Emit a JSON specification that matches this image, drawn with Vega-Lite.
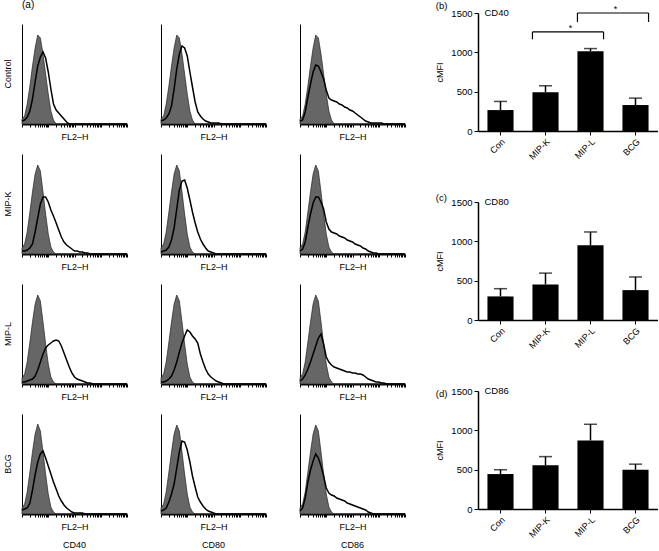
{
"$schema": "https://vega.github.io/schema/vega-lite/v6.json",
"padding": {"left": 3, "top": 0, "right": 0, "bottom": 0},
"config": {"font": "Liberation Sans", "view": {"stroke": null},
  "axis": {"labelColor": "black", "titleColor": "black", "domainColor": "black", "tickColor": "black", "grid": false},
  "header": {"labelColor": "black"}, "title": {"color": "black"}},
"datasets": {
"hist": [
{"g":"Control","m":"CD40","x":1,"iso":5,"smp":3},{"g":"Control","m":"CD40","x":1.26,"iso":8,"smp":4},{"g":"Control","m":"CD40","x":1.58,"iso":20,"smp":7},{"g":"Control","m":"CD40","x":2,"iso":38,"smp":13},{"g":"Control","m":"CD40","x":2.51,"iso":58,"smp":25},{"g":"Control","m":"CD40","x":3.16,"iso":76,"smp":42},{"g":"Control","m":"CD40","x":3.98,"iso":89,"smp":58},{"g":"Control","m":"CD40","x":5.01,"iso":86,"smp":67},{"g":"Control","m":"CD40","x":6.31,"iso":70,"smp":72},{"g":"Control","m":"CD40","x":7.94,"iso":50,"smp":66},{"g":"Control","m":"CD40","x":10,"iso":30,"smp":52},{"g":"Control","m":"CD40","x":12.6,"iso":13,"smp":35},{"g":"Control","m":"CD40","x":15.8,"iso":4,"smp":20},{"g":"Control","m":"CD40","x":20,"iso":0,"smp":14},{"g":"Control","m":"CD40","x":25.1,"iso":0,"smp":11},{"g":"Control","m":"CD40","x":31.6,"iso":0,"smp":8},{"g":"Control","m":"CD40","x":39.8,"iso":0,"smp":5},{"g":"Control","m":"CD40","x":50.1,"iso":0,"smp":2},{"g":"Control","m":"CD40","x":63.1,"iso":0,"smp":0},{"g":"Control","m":"CD40","x":10000,"iso":0,"smp":0},
{"g":"Control","m":"CD80","x":1,"iso":5,"smp":3},{"g":"Control","m":"CD80","x":1.26,"iso":8,"smp":4},{"g":"Control","m":"CD80","x":1.58,"iso":20,"smp":6},{"g":"Control","m":"CD80","x":2,"iso":38,"smp":10},{"g":"Control","m":"CD80","x":2.51,"iso":58,"smp":18},{"g":"Control","m":"CD80","x":3.16,"iso":76,"smp":35},{"g":"Control","m":"CD80","x":3.98,"iso":89,"smp":55},{"g":"Control","m":"CD80","x":5.01,"iso":86,"smp":70},{"g":"Control","m":"CD80","x":6.31,"iso":70,"smp":78},{"g":"Control","m":"CD80","x":7.94,"iso":50,"smp":76},{"g":"Control","m":"CD80","x":10,"iso":30,"smp":68},{"g":"Control","m":"CD80","x":12.6,"iso":13,"smp":52},{"g":"Control","m":"CD80","x":15.8,"iso":4,"smp":37},{"g":"Control","m":"CD80","x":20,"iso":0,"smp":22},{"g":"Control","m":"CD80","x":25.1,"iso":0,"smp":12},{"g":"Control","m":"CD80","x":31.6,"iso":0,"smp":8},{"g":"Control","m":"CD80","x":39.8,"iso":0,"smp":5},{"g":"Control","m":"CD80","x":50.1,"iso":0,"smp":3},{"g":"Control","m":"CD80","x":63.1,"iso":0,"smp":2},{"g":"Control","m":"CD80","x":79.4,"iso":0,"smp":1},{"g":"Control","m":"CD80","x":100,"iso":0,"smp":1},{"g":"Control","m":"CD80","x":126,"iso":0,"smp":1},{"g":"Control","m":"CD80","x":158,"iso":0,"smp":1},{"g":"Control","m":"CD80","x":200,"iso":0,"smp":0},{"g":"Control","m":"CD80","x":10000,"iso":0,"smp":0},
{"g":"Control","m":"CD86","x":1,"iso":5,"smp":3},{"g":"Control","m":"CD86","x":1.26,"iso":8,"smp":4},{"g":"Control","m":"CD86","x":1.58,"iso":20,"smp":12},{"g":"Control","m":"CD86","x":2,"iso":38,"smp":27},{"g":"Control","m":"CD86","x":2.51,"iso":58,"smp":40},{"g":"Control","m":"CD86","x":3.16,"iso":76,"smp":52},{"g":"Control","m":"CD86","x":3.98,"iso":89,"smp":59},{"g":"Control","m":"CD86","x":5.01,"iso":86,"smp":58},{"g":"Control","m":"CD86","x":6.31,"iso":70,"smp":52},{"g":"Control","m":"CD86","x":7.94,"iso":50,"smp":45},{"g":"Control","m":"CD86","x":10,"iso":30,"smp":34},{"g":"Control","m":"CD86","x":12.6,"iso":13,"smp":26},{"g":"Control","m":"CD86","x":15.8,"iso":4,"smp":24},{"g":"Control","m":"CD86","x":20,"iso":0,"smp":23},{"g":"Control","m":"CD86","x":25.1,"iso":0,"smp":22},{"g":"Control","m":"CD86","x":31.6,"iso":0,"smp":20},{"g":"Control","m":"CD86","x":39.8,"iso":0,"smp":19},{"g":"Control","m":"CD86","x":50.1,"iso":0,"smp":17},{"g":"Control","m":"CD86","x":63.1,"iso":0,"smp":16},{"g":"Control","m":"CD86","x":79.4,"iso":0,"smp":14},{"g":"Control","m":"CD86","x":100,"iso":0,"smp":13},{"g":"Control","m":"CD86","x":126,"iso":0,"smp":11},{"g":"Control","m":"CD86","x":158,"iso":0,"smp":9},{"g":"Control","m":"CD86","x":200,"iso":0,"smp":7},{"g":"Control","m":"CD86","x":251,"iso":0,"smp":5},{"g":"Control","m":"CD86","x":316,"iso":0,"smp":3},{"g":"Control","m":"CD86","x":398,"iso":0,"smp":2},{"g":"Control","m":"CD86","x":501,"iso":0,"smp":1},{"g":"Control","m":"CD86","x":631,"iso":0,"smp":1},{"g":"Control","m":"CD86","x":794,"iso":0,"smp":1},{"g":"Control","m":"CD86","x":1000,"iso":0,"smp":1},{"g":"Control","m":"CD86","x":1260,"iso":0,"smp":1},{"g":"Control","m":"CD86","x":1580,"iso":0,"smp":0},{"g":"Control","m":"CD86","x":10000,"iso":0,"smp":0},
{"g":"MIP-K","m":"CD40","x":1,"iso":6,"smp":3},{"g":"MIP-K","m":"CD40","x":1.26,"iso":10,"smp":3},{"g":"MIP-K","m":"CD40","x":1.58,"iso":22,"smp":4},{"g":"MIP-K","m":"CD40","x":2,"iso":42,"smp":6},{"g":"MIP-K","m":"CD40","x":2.51,"iso":62,"smp":10},{"g":"MIP-K","m":"CD40","x":3.16,"iso":80,"smp":22},{"g":"MIP-K","m":"CD40","x":3.98,"iso":89,"smp":36},{"g":"MIP-K","m":"CD40","x":5.01,"iso":83,"smp":50},{"g":"MIP-K","m":"CD40","x":6.31,"iso":62,"smp":57},{"g":"MIP-K","m":"CD40","x":7.94,"iso":40,"smp":57},{"g":"MIP-K","m":"CD40","x":10,"iso":20,"smp":52},{"g":"MIP-K","m":"CD40","x":12.6,"iso":7,"smp":44},{"g":"MIP-K","m":"CD40","x":15.8,"iso":2,"smp":38},{"g":"MIP-K","m":"CD40","x":20,"iso":0,"smp":31},{"g":"MIP-K","m":"CD40","x":25.1,"iso":0,"smp":24},{"g":"MIP-K","m":"CD40","x":31.6,"iso":0,"smp":17},{"g":"MIP-K","m":"CD40","x":39.8,"iso":0,"smp":12},{"g":"MIP-K","m":"CD40","x":50.1,"iso":0,"smp":9},{"g":"MIP-K","m":"CD40","x":63.1,"iso":0,"smp":7},{"g":"MIP-K","m":"CD40","x":79.4,"iso":0,"smp":5},{"g":"MIP-K","m":"CD40","x":100,"iso":0,"smp":3},{"g":"MIP-K","m":"CD40","x":126,"iso":0,"smp":3},{"g":"MIP-K","m":"CD40","x":158,"iso":0,"smp":2},{"g":"MIP-K","m":"CD40","x":200,"iso":0,"smp":2},{"g":"MIP-K","m":"CD40","x":251,"iso":0,"smp":1},{"g":"MIP-K","m":"CD40","x":316,"iso":0,"smp":1},{"g":"MIP-K","m":"CD40","x":398,"iso":0,"smp":0},{"g":"MIP-K","m":"CD40","x":10000,"iso":0,"smp":0},
{"g":"MIP-K","m":"CD80","x":1,"iso":6,"smp":2},{"g":"MIP-K","m":"CD80","x":1.26,"iso":10,"smp":3},{"g":"MIP-K","m":"CD80","x":1.58,"iso":22,"smp":4},{"g":"MIP-K","m":"CD80","x":2,"iso":42,"smp":7},{"g":"MIP-K","m":"CD80","x":2.51,"iso":62,"smp":14},{"g":"MIP-K","m":"CD80","x":3.16,"iso":80,"smp":26},{"g":"MIP-K","m":"CD80","x":3.98,"iso":89,"smp":45},{"g":"MIP-K","m":"CD80","x":5.01,"iso":83,"smp":64},{"g":"MIP-K","m":"CD80","x":6.31,"iso":62,"smp":73},{"g":"MIP-K","m":"CD80","x":7.94,"iso":40,"smp":74},{"g":"MIP-K","m":"CD80","x":10,"iso":20,"smp":66},{"g":"MIP-K","m":"CD80","x":12.6,"iso":7,"smp":54},{"g":"MIP-K","m":"CD80","x":15.8,"iso":2,"smp":42},{"g":"MIP-K","m":"CD80","x":20,"iso":0,"smp":31},{"g":"MIP-K","m":"CD80","x":25.1,"iso":0,"smp":22},{"g":"MIP-K","m":"CD80","x":31.6,"iso":0,"smp":15},{"g":"MIP-K","m":"CD80","x":39.8,"iso":0,"smp":10},{"g":"MIP-K","m":"CD80","x":50.1,"iso":0,"smp":6},{"g":"MIP-K","m":"CD80","x":63.1,"iso":0,"smp":3},{"g":"MIP-K","m":"CD80","x":79.4,"iso":0,"smp":2},{"g":"MIP-K","m":"CD80","x":100,"iso":0,"smp":1},{"g":"MIP-K","m":"CD80","x":126,"iso":0,"smp":0},{"g":"MIP-K","m":"CD80","x":10000,"iso":0,"smp":0},
{"g":"MIP-K","m":"CD86","x":1,"iso":6,"smp":3},{"g":"MIP-K","m":"CD86","x":1.26,"iso":10,"smp":5},{"g":"MIP-K","m":"CD86","x":1.58,"iso":22,"smp":12},{"g":"MIP-K","m":"CD86","x":2,"iso":42,"smp":27},{"g":"MIP-K","m":"CD86","x":2.51,"iso":62,"smp":40},{"g":"MIP-K","m":"CD86","x":3.16,"iso":80,"smp":51},{"g":"MIP-K","m":"CD86","x":3.98,"iso":89,"smp":57},{"g":"MIP-K","m":"CD86","x":5.01,"iso":83,"smp":57},{"g":"MIP-K","m":"CD86","x":6.31,"iso":62,"smp":52},{"g":"MIP-K","m":"CD86","x":7.94,"iso":40,"smp":45},{"g":"MIP-K","m":"CD86","x":10,"iso":20,"smp":32},{"g":"MIP-K","m":"CD86","x":12.6,"iso":7,"smp":25},{"g":"MIP-K","m":"CD86","x":15.8,"iso":2,"smp":22},{"g":"MIP-K","m":"CD86","x":20,"iso":0,"smp":21},{"g":"MIP-K","m":"CD86","x":25.1,"iso":0,"smp":20},{"g":"MIP-K","m":"CD86","x":31.6,"iso":0,"smp":18},{"g":"MIP-K","m":"CD86","x":39.8,"iso":0,"smp":17},{"g":"MIP-K","m":"CD86","x":50.1,"iso":0,"smp":16},{"g":"MIP-K","m":"CD86","x":63.1,"iso":0,"smp":14},{"g":"MIP-K","m":"CD86","x":79.4,"iso":0,"smp":13},{"g":"MIP-K","m":"CD86","x":100,"iso":0,"smp":12},{"g":"MIP-K","m":"CD86","x":126,"iso":0,"smp":10},{"g":"MIP-K","m":"CD86","x":158,"iso":0,"smp":9},{"g":"MIP-K","m":"CD86","x":200,"iso":0,"smp":8},{"g":"MIP-K","m":"CD86","x":251,"iso":0,"smp":6},{"g":"MIP-K","m":"CD86","x":316,"iso":0,"smp":5},{"g":"MIP-K","m":"CD86","x":398,"iso":0,"smp":3},{"g":"MIP-K","m":"CD86","x":501,"iso":0,"smp":2},{"g":"MIP-K","m":"CD86","x":631,"iso":0,"smp":1},{"g":"MIP-K","m":"CD86","x":794,"iso":0,"smp":1},{"g":"MIP-K","m":"CD86","x":1000,"iso":0,"smp":0},{"g":"MIP-K","m":"CD86","x":10000,"iso":0,"smp":0},
{"g":"MIP-L","m":"CD40","x":1,"iso":6,"smp":2},{"g":"MIP-L","m":"CD40","x":1.26,"iso":10,"smp":2},{"g":"MIP-L","m":"CD40","x":1.58,"iso":22,"smp":3},{"g":"MIP-L","m":"CD40","x":2,"iso":42,"smp":4},{"g":"MIP-L","m":"CD40","x":2.51,"iso":62,"smp":5},{"g":"MIP-L","m":"CD40","x":3.16,"iso":80,"smp":8},{"g":"MIP-L","m":"CD40","x":3.98,"iso":89,"smp":14},{"g":"MIP-L","m":"CD40","x":5.01,"iso":83,"smp":22},{"g":"MIP-L","m":"CD40","x":6.31,"iso":62,"smp":30},{"g":"MIP-L","m":"CD40","x":7.94,"iso":40,"smp":36},{"g":"MIP-L","m":"CD40","x":10,"iso":20,"smp":39},{"g":"MIP-L","m":"CD40","x":12.6,"iso":7,"smp":41},{"g":"MIP-L","m":"CD40","x":15.8,"iso":2,"smp":43},{"g":"MIP-L","m":"CD40","x":20,"iso":0,"smp":44},{"g":"MIP-L","m":"CD40","x":25.1,"iso":0,"smp":43},{"g":"MIP-L","m":"CD40","x":31.6,"iso":0,"smp":38},{"g":"MIP-L","m":"CD40","x":39.8,"iso":0,"smp":31},{"g":"MIP-L","m":"CD40","x":50.1,"iso":0,"smp":24},{"g":"MIP-L","m":"CD40","x":63.1,"iso":0,"smp":17},{"g":"MIP-L","m":"CD40","x":79.4,"iso":0,"smp":11},{"g":"MIP-L","m":"CD40","x":100,"iso":0,"smp":7},{"g":"MIP-L","m":"CD40","x":126,"iso":0,"smp":5},{"g":"MIP-L","m":"CD40","x":158,"iso":0,"smp":4},{"g":"MIP-L","m":"CD40","x":200,"iso":0,"smp":3},{"g":"MIP-L","m":"CD40","x":251,"iso":0,"smp":2},{"g":"MIP-L","m":"CD40","x":316,"iso":0,"smp":1},{"g":"MIP-L","m":"CD40","x":398,"iso":0,"smp":1},{"g":"MIP-L","m":"CD40","x":501,"iso":0,"smp":0},{"g":"MIP-L","m":"CD40","x":10000,"iso":0,"smp":0},
{"g":"MIP-L","m":"CD80","x":1,"iso":6,"smp":2},{"g":"MIP-L","m":"CD80","x":1.26,"iso":10,"smp":2},{"g":"MIP-L","m":"CD80","x":1.58,"iso":22,"smp":3},{"g":"MIP-L","m":"CD80","x":2,"iso":42,"smp":5},{"g":"MIP-L","m":"CD80","x":2.51,"iso":62,"smp":8},{"g":"MIP-L","m":"CD80","x":3.16,"iso":80,"smp":14},{"g":"MIP-L","m":"CD80","x":3.98,"iso":89,"smp":22},{"g":"MIP-L","m":"CD80","x":5.01,"iso":83,"smp":32},{"g":"MIP-L","m":"CD80","x":6.31,"iso":62,"smp":41},{"g":"MIP-L","m":"CD80","x":7.94,"iso":40,"smp":48},{"g":"MIP-L","m":"CD80","x":10,"iso":20,"smp":54},{"g":"MIP-L","m":"CD80","x":12.6,"iso":7,"smp":52},{"g":"MIP-L","m":"CD80","x":15.8,"iso":2,"smp":48},{"g":"MIP-L","m":"CD80","x":20,"iso":0,"smp":45},{"g":"MIP-L","m":"CD80","x":25.1,"iso":0,"smp":41},{"g":"MIP-L","m":"CD80","x":31.6,"iso":0,"smp":30},{"g":"MIP-L","m":"CD80","x":39.8,"iso":0,"smp":22},{"g":"MIP-L","m":"CD80","x":50.1,"iso":0,"smp":15},{"g":"MIP-L","m":"CD80","x":63.1,"iso":0,"smp":10},{"g":"MIP-L","m":"CD80","x":79.4,"iso":0,"smp":7},{"g":"MIP-L","m":"CD80","x":100,"iso":0,"smp":5},{"g":"MIP-L","m":"CD80","x":126,"iso":0,"smp":3},{"g":"MIP-L","m":"CD80","x":158,"iso":0,"smp":2},{"g":"MIP-L","m":"CD80","x":200,"iso":0,"smp":1},{"g":"MIP-L","m":"CD80","x":251,"iso":0,"smp":0},{"g":"MIP-L","m":"CD80","x":10000,"iso":0,"smp":0},
{"g":"MIP-L","m":"CD86","x":1,"iso":6,"smp":3},{"g":"MIP-L","m":"CD86","x":1.26,"iso":10,"smp":5},{"g":"MIP-L","m":"CD86","x":1.58,"iso":22,"smp":9},{"g":"MIP-L","m":"CD86","x":2,"iso":42,"smp":15},{"g":"MIP-L","m":"CD86","x":2.51,"iso":62,"smp":22},{"g":"MIP-L","m":"CD86","x":3.16,"iso":80,"smp":30},{"g":"MIP-L","m":"CD86","x":3.98,"iso":89,"smp":38},{"g":"MIP-L","m":"CD86","x":5.01,"iso":83,"smp":46},{"g":"MIP-L","m":"CD86","x":6.31,"iso":62,"smp":50},{"g":"MIP-L","m":"CD86","x":7.94,"iso":40,"smp":40},{"g":"MIP-L","m":"CD86","x":10,"iso":20,"smp":27},{"g":"MIP-L","m":"CD86","x":12.6,"iso":7,"smp":22},{"g":"MIP-L","m":"CD86","x":15.8,"iso":2,"smp":19},{"g":"MIP-L","m":"CD86","x":20,"iso":0,"smp":17},{"g":"MIP-L","m":"CD86","x":25.1,"iso":0,"smp":16},{"g":"MIP-L","m":"CD86","x":31.6,"iso":0,"smp":15},{"g":"MIP-L","m":"CD86","x":39.8,"iso":0,"smp":14},{"g":"MIP-L","m":"CD86","x":50.1,"iso":0,"smp":13},{"g":"MIP-L","m":"CD86","x":63.1,"iso":0,"smp":12},{"g":"MIP-L","m":"CD86","x":79.4,"iso":0,"smp":12},{"g":"MIP-L","m":"CD86","x":100,"iso":0,"smp":11},{"g":"MIP-L","m":"CD86","x":126,"iso":0,"smp":11},{"g":"MIP-L","m":"CD86","x":158,"iso":0,"smp":10},{"g":"MIP-L","m":"CD86","x":200,"iso":0,"smp":10},{"g":"MIP-L","m":"CD86","x":251,"iso":0,"smp":9},{"g":"MIP-L","m":"CD86","x":316,"iso":0,"smp":7},{"g":"MIP-L","m":"CD86","x":398,"iso":0,"smp":5},{"g":"MIP-L","m":"CD86","x":501,"iso":0,"smp":4},{"g":"MIP-L","m":"CD86","x":631,"iso":0,"smp":3},{"g":"MIP-L","m":"CD86","x":794,"iso":0,"smp":2},{"g":"MIP-L","m":"CD86","x":1000,"iso":0,"smp":2},{"g":"MIP-L","m":"CD86","x":1260,"iso":0,"smp":1},{"g":"MIP-L","m":"CD86","x":1580,"iso":0,"smp":1},{"g":"MIP-L","m":"CD86","x":2000,"iso":0,"smp":0},{"g":"MIP-L","m":"CD86","x":10000,"iso":0,"smp":0},
{"g":"BCG","m":"CD40","x":1,"iso":6,"smp":4},{"g":"BCG","m":"CD40","x":1.26,"iso":10,"smp":5},{"g":"BCG","m":"CD40","x":1.58,"iso":22,"smp":6},{"g":"BCG","m":"CD40","x":2,"iso":42,"smp":11},{"g":"BCG","m":"CD40","x":2.51,"iso":62,"smp":24},{"g":"BCG","m":"CD40","x":3.16,"iso":80,"smp":39},{"g":"BCG","m":"CD40","x":3.98,"iso":90,"smp":52},{"g":"BCG","m":"CD40","x":5.01,"iso":83,"smp":60},{"g":"BCG","m":"CD40","x":6.31,"iso":62,"smp":63},{"g":"BCG","m":"CD40","x":7.94,"iso":40,"smp":56},{"g":"BCG","m":"CD40","x":10,"iso":20,"smp":48},{"g":"BCG","m":"CD40","x":12.6,"iso":7,"smp":40},{"g":"BCG","m":"CD40","x":15.8,"iso":2,"smp":32},{"g":"BCG","m":"CD40","x":20,"iso":0,"smp":25},{"g":"BCG","m":"CD40","x":25.1,"iso":0,"smp":18},{"g":"BCG","m":"CD40","x":31.6,"iso":0,"smp":13},{"g":"BCG","m":"CD40","x":39.8,"iso":0,"smp":9},{"g":"BCG","m":"CD40","x":50.1,"iso":0,"smp":6},{"g":"BCG","m":"CD40","x":63.1,"iso":0,"smp":4},{"g":"BCG","m":"CD40","x":79.4,"iso":0,"smp":2},{"g":"BCG","m":"CD40","x":100,"iso":0,"smp":1},{"g":"BCG","m":"CD40","x":126,"iso":0,"smp":1},{"g":"BCG","m":"CD40","x":158,"iso":0,"smp":1},{"g":"BCG","m":"CD40","x":200,"iso":0,"smp":1},{"g":"BCG","m":"CD40","x":251,"iso":0,"smp":0},{"g":"BCG","m":"CD40","x":10000,"iso":0,"smp":0},
{"g":"BCG","m":"CD80","x":1,"iso":6,"smp":3},{"g":"BCG","m":"CD80","x":1.26,"iso":10,"smp":4},{"g":"BCG","m":"CD80","x":1.58,"iso":22,"smp":6},{"g":"BCG","m":"CD80","x":2,"iso":42,"smp":12},{"g":"BCG","m":"CD80","x":2.51,"iso":62,"smp":20},{"g":"BCG","m":"CD80","x":3.16,"iso":80,"smp":30},{"g":"BCG","m":"CD80","x":3.98,"iso":89,"smp":46},{"g":"BCG","m":"CD80","x":5.01,"iso":83,"smp":62},{"g":"BCG","m":"CD80","x":6.31,"iso":62,"smp":73},{"g":"BCG","m":"CD80","x":7.94,"iso":40,"smp":72},{"g":"BCG","m":"CD80","x":10,"iso":20,"smp":64},{"g":"BCG","m":"CD80","x":12.6,"iso":7,"smp":52},{"g":"BCG","m":"CD80","x":15.8,"iso":2,"smp":38},{"g":"BCG","m":"CD80","x":20,"iso":0,"smp":27},{"g":"BCG","m":"CD80","x":25.1,"iso":0,"smp":17},{"g":"BCG","m":"CD80","x":31.6,"iso":0,"smp":12},{"g":"BCG","m":"CD80","x":39.8,"iso":0,"smp":8},{"g":"BCG","m":"CD80","x":50.1,"iso":0,"smp":5},{"g":"BCG","m":"CD80","x":63.1,"iso":0,"smp":3},{"g":"BCG","m":"CD80","x":79.4,"iso":0,"smp":2},{"g":"BCG","m":"CD80","x":100,"iso":0,"smp":1},{"g":"BCG","m":"CD80","x":126,"iso":0,"smp":0},{"g":"BCG","m":"CD80","x":10000,"iso":0,"smp":0},
{"g":"BCG","m":"CD86","x":1,"iso":6,"smp":3},{"g":"BCG","m":"CD86","x":1.26,"iso":10,"smp":6},{"g":"BCG","m":"CD86","x":1.58,"iso":22,"smp":16},{"g":"BCG","m":"CD86","x":2,"iso":42,"smp":32},{"g":"BCG","m":"CD86","x":2.51,"iso":62,"smp":44},{"g":"BCG","m":"CD86","x":3.16,"iso":80,"smp":53},{"g":"BCG","m":"CD86","x":3.98,"iso":89,"smp":60},{"g":"BCG","m":"CD86","x":5.01,"iso":83,"smp":56},{"g":"BCG","m":"CD86","x":6.31,"iso":62,"smp":48},{"g":"BCG","m":"CD86","x":7.94,"iso":40,"smp":38},{"g":"BCG","m":"CD86","x":10,"iso":20,"smp":26},{"g":"BCG","m":"CD86","x":12.6,"iso":7,"smp":21},{"g":"BCG","m":"CD86","x":15.8,"iso":2,"smp":19},{"g":"BCG","m":"CD86","x":20,"iso":0,"smp":18},{"g":"BCG","m":"CD86","x":25.1,"iso":0,"smp":16},{"g":"BCG","m":"CD86","x":31.6,"iso":0,"smp":15},{"g":"BCG","m":"CD86","x":39.8,"iso":0,"smp":14},{"g":"BCG","m":"CD86","x":50.1,"iso":0,"smp":13},{"g":"BCG","m":"CD86","x":63.1,"iso":0,"smp":11},{"g":"BCG","m":"CD86","x":79.4,"iso":0,"smp":10},{"g":"BCG","m":"CD86","x":100,"iso":0,"smp":9},{"g":"BCG","m":"CD86","x":126,"iso":0,"smp":8},{"g":"BCG","m":"CD86","x":158,"iso":0,"smp":7},{"g":"BCG","m":"CD86","x":200,"iso":0,"smp":6},{"g":"BCG","m":"CD86","x":251,"iso":0,"smp":5},{"g":"BCG","m":"CD86","x":316,"iso":0,"smp":4},{"g":"BCG","m":"CD86","x":398,"iso":0,"smp":2},{"g":"BCG","m":"CD86","x":501,"iso":0,"smp":1},{"g":"BCG","m":"CD86","x":631,"iso":0,"smp":0},{"g":"BCG","m":"CD86","x":10000,"iso":0,"smp":0}
],
"bars": [
{"m":"CD40","grp":"Con","v":266,"up":376},{"m":"CD40","grp":"MIP-K","v":494,"up":575},{"m":"CD40","grp":"MIP-L","v":1014,"up":1048},{"m":"CD40","grp":"BCG","v":330,"up":418},
{"m":"CD80","grp":"Con","v":300,"up":398},{"m":"CD80","grp":"MIP-K","v":452,"up":596},{"m":"CD80","grp":"MIP-L","v":950,"up":1119},{"m":"CD80","grp":"BCG","v":380,"up":547},
{"m":"CD86","grp":"Con","v":444,"up":499},{"m":"CD86","grp":"MIP-K","v":557,"up":666},{"m":"CD86","grp":"MIP-L","v":872,"up":1077},{"m":"CD86","grp":"BCG","v":499,"up":570}
],
"brackets": [
{"m":"CD40","a":"MIP-K","b":"MIP-L","top":1259,"bot":1166,"star":"*"},
{"m":"CD40","a":"MIP-L","b":"BCG","top":1500,"bot":1386,"star":"*"}
]
},
"spacing": 27,
"hconcat": [
{
 "vconcat": [
  {
   "title": {"text": "(a)", "anchor": "start", "frame": "bounds", "fontSize": 10, "fontWeight": "normal", "offset": 3},
   "width": 10, "height": 1,
   "data": {"values": []},
   "mark": {"type": "point", "opacity": 0}
  },
  {
   "data": {"name": "hist"},
   "facet": {
     "row": {"field": "g", "type": "nominal", "sort": ["Control", "MIP-K", "MIP-L", "BCG"],
       "header": {"title": null, "labelAngle": -90, "labelOrient": "left", "labelPadding": 0, "labelFontSize": 9, "labelAlign": "center", "labelBaseline": "bottom"}},
     "column": {"field": "m", "type": "nominal", "sort": ["CD40", "CD80", "CD86"],
       "header": {"title": null, "labelOrient": "bottom", "labelPadding": 27, "labelFontSize": 9}}
   },
   "spacing": {"row": 30, "column": 34},
   "bounds": "flush",
   "resolve": {"axis": {"x": "independent", "y": "independent"}},
   "spec": {
     "width": 105, "height": 100,
     "layer": [
       {"mark": {"type": "area", "fill": "#666666", "stroke": "#222222", "strokeWidth": 0.7},
        "encoding": {
          "x": {"field": "x", "type": "quantitative", "scale": {"type": "log", "domain": [1, 10000], "nice": false},
            "axis": {"title": "FL2\u2013H", "titleFontSize": 9, "titleFontWeight": "normal", "titlePadding": 5, "labels": false, "tickSize": 3, "tickWidth": 1, "domainWidth": 2,
              "values": [1,2,3,4,5,6,7,8,9,10,20,30,40,50,60,70,80,90,100,200,300,400,500,600,700,800,900,1000,2000,3000,4000,5000,6000,7000,8000,9000,10000]}},
          "y": {"field": "iso", "type": "quantitative", "scale": {"domain": [0, 100], "nice": false},
            "axis": {"title": null, "labels": false, "ticks": false, "domainWidth": 1}}
        }},
       {"mark": {"type": "line", "color": "black", "strokeWidth": 1.5},
        "encoding": {
          "x": {"field": "x", "type": "quantitative",
            "axis": {"title": "FL2\u2013H", "titleFontSize": 9, "titleFontWeight": "normal", "titlePadding": 5, "labels": false, "tickSize": 3, "tickWidth": 1, "domainWidth": 2,
              "values": [1,2,3,4,5,6,7,8,9,10,20,30,40,50,60,70,80,90,100,200,300,400,500,600,700,800,900,1000,2000,3000,4000,5000,6000,7000,8000,9000,10000]}},
          "y": {"field": "smp", "type": "quantitative",
            "axis": {"title": null, "labels": false, "ticks": false, "domainWidth": 1}}
        }}
     ]
   }
  }
 ],
 "spacing": 10,
 "bounds": "flush"
},
{
 "vconcat": [
  {
   "title": {"text": "(b)", "anchor": "start", "frame": "bounds", "fontSize": 9.5, "fontWeight": "normal", "offset": -5},
   "width": 180, "height": 118,
   "layer": [
     {"data": {"name": "bars"}, "transform": [{"filter": "datum.m === 'CD40'"}],
      "mark": {"type": "bar", "color": "black"},
      "encoding": {
        "x": {"field": "grp", "type": "nominal", "scale": {"domain": ["Con", "MIP-K", "MIP-L", "BCG"], "paddingInner": 0.42, "paddingOuter": 0.21},
          "axis": {"title": null, "labelAngle": -45, "labelFontSize": 9, "tickSize": 4, "domainWidth": 1.5, "labelPadding": 2}},
        "y": {"field": "v", "type": "quantitative", "scale": {"domain": [0, 1500], "nice": false},
          "axis": {"title": "cMFI", "titleFontSize": 9, "titleFontWeight": "normal", "titlePadding": 6, "values": [0, 500, 1000, 1500], "format": "d", "labelFontSize": 9.5, "labelPadding": 2, "tickSize": 4, "domainWidth": 1.5}}
      }},
     {"data": {"name": "bars"}, "transform": [{"filter": "datum.m === 'CD40'"}],
      "mark": {"type": "rule", "color": "black", "strokeWidth": 1.5},
      "encoding": {
        "x": {"field": "grp", "type": "nominal", "axis": {"title": null, "labelAngle": -45, "labelFontSize": 9, "tickSize": 4, "domainWidth": 1.5, "labelPadding": 2}},
        "y": {"field": "v", "type": "quantitative", "axis": {"title": "cMFI", "titleFontSize": 9, "titleFontWeight": "normal", "titlePadding": 6, "values": [0, 500, 1000, 1500], "format": "d", "labelFontSize": 9.5, "labelPadding": 2, "tickSize": 4, "domainWidth": 1.5}},
        "y2": {"field": "up"}}},
     {"data": {"name": "bars"}, "transform": [{"filter": "datum.m === 'CD40'"}],
      "mark": {"type": "tick", "color": "black", "thickness": 1.5, "size": 13},
      "encoding": {
        "x": {"field": "grp", "type": "nominal", "axis": {"title": null, "labelAngle": -45, "labelFontSize": 9, "tickSize": 4, "domainWidth": 1.5, "labelPadding": 2}},
        "y": {"field": "up", "type": "quantitative", "axis": {"title": "cMFI", "titleFontSize": 9, "titleFontWeight": "normal", "titlePadding": 6, "values": [0, 500, 1000, 1500], "format": "d", "labelFontSize": 9.5, "labelPadding": 2, "tickSize": 4, "domainWidth": 1.5}}}},
     {"data": {"name": "brackets"},
      "mark": {"type": "rule", "color": "black", "strokeWidth": 1.2},
      "encoding": {
        "x": {"field": "a", "type": "nominal", "bandPosition": 0, "axis": {"title": null, "labelAngle": -45, "labelFontSize": 9, "tickSize": 4, "domainWidth": 1.5, "labelPadding": 2}},
        "x2": {"field": "b", "bandPosition": 1},
        "y": {"field": "top", "type": "quantitative", "axis": {"title": "cMFI", "titleFontSize": 9, "titleFontWeight": "normal", "titlePadding": 6, "values": [0, 500, 1000, 1500], "format": "d", "labelFontSize": 9.5, "labelPadding": 2, "tickSize": 4, "domainWidth": 1.5}}}},
     {"data": {"name": "brackets"},
      "mark": {"type": "rule", "color": "black", "strokeWidth": 1.2},
      "encoding": {
        "x": {"field": "a", "type": "nominal", "bandPosition": 0, "axis": {"title": null, "labelAngle": -45, "labelFontSize": 9, "tickSize": 4, "domainWidth": 1.5, "labelPadding": 2}},
        "y": {"field": "bot", "type": "quantitative", "axis": {"title": "cMFI", "titleFontSize": 9, "titleFontWeight": "normal", "titlePadding": 6, "values": [0, 500, 1000, 1500], "format": "d", "labelFontSize": 9.5, "labelPadding": 2, "tickSize": 4, "domainWidth": 1.5}},
        "y2": {"field": "top"}}},
     {"data": {"name": "brackets"},
      "mark": {"type": "rule", "color": "black", "strokeWidth": 1.2},
      "encoding": {
        "x": {"field": "b", "type": "nominal", "bandPosition": 1, "axis": {"title": null, "labelAngle": -45, "labelFontSize": 9, "tickSize": 4, "domainWidth": 1.5, "labelPadding": 2}},
        "y": {"field": "bot", "type": "quantitative", "axis": {"title": "cMFI", "titleFontSize": 9, "titleFontWeight": "normal", "titlePadding": 6, "values": [0, 500, 1000, 1500], "format": "d", "labelFontSize": 9.5, "labelPadding": 2, "tickSize": 4, "domainWidth": 1.5}},
        "y2": {"field": "top"}}},
     {"data": {"name": "brackets"},
      "mark": {"type": "text", "fontSize": 9, "dx": -7, "dy": -1, "baseline": "alphabetic", "align": "center"},
      "encoding": {
        "x": {"field": "b", "type": "nominal", "bandPosition": 0, "axis": {"title": null, "labelAngle": -45, "labelFontSize": 9, "tickSize": 4, "domainWidth": 1.5, "labelPadding": 2}},
        "y": {"field": "top", "type": "quantitative", "axis": {"title": "cMFI", "titleFontSize": 9, "titleFontWeight": "normal", "titlePadding": 6, "values": [0, 500, 1000, 1500], "format": "d", "labelFontSize": 9.5, "labelPadding": 2, "tickSize": 4, "domainWidth": 1.5}},
        "text": {"field": "star"}}},
     {"data": {"values": [{"t": "CD40", "c": "Con", "v": 1500}]},
      "mark": {"type": "text", "fontSize": 9.5, "align": "left", "baseline": "middle", "dx": -3},
      "encoding": {
        "x": {"field": "c", "type": "nominal", "bandPosition": 0, "axis": {"title": null, "labelAngle": -45, "labelFontSize": 9, "tickSize": 4, "domainWidth": 1.5, "labelPadding": 2}},
        "y": {"field": "v", "type": "quantitative", "axis": {"title": "cMFI", "titleFontSize": 9, "titleFontWeight": "normal", "titlePadding": 6, "values": [0, 500, 1000, 1500], "format": "d", "labelFontSize": 9.5, "labelPadding": 2, "tickSize": 4, "domainWidth": 1.5}},
        "text": {"field": "t"}}}
   ]
  },
  {
   "title": {"text": "(c)", "anchor": "start", "frame": "bounds", "fontSize": 9.5, "fontWeight": "normal", "offset": -5},
   "width": 180, "height": 118,
   "layer": [
     {"data": {"name": "bars"}, "transform": [{"filter": "datum.m === 'CD80'"}],
      "mark": {"type": "bar", "color": "black"},
      "encoding": {
        "x": {"field": "grp", "type": "nominal", "scale": {"domain": ["Con", "MIP-K", "MIP-L", "BCG"], "paddingInner": 0.42, "paddingOuter": 0.21},
          "axis": {"title": null, "labelAngle": -45, "labelFontSize": 9, "tickSize": 4, "domainWidth": 1.5, "labelPadding": 2}},
        "y": {"field": "v", "type": "quantitative", "scale": {"domain": [0, 1500], "nice": false},
          "axis": {"title": "cMFI", "titleFontSize": 9, "titleFontWeight": "normal", "titlePadding": 6, "values": [0, 500, 1000, 1500], "format": "d", "labelFontSize": 9.5, "labelPadding": 2, "tickSize": 4, "domainWidth": 1.5}}
      }},
     {"data": {"name": "bars"}, "transform": [{"filter": "datum.m === 'CD80'"}],
      "mark": {"type": "rule", "color": "black", "strokeWidth": 1.5},
      "encoding": {
        "x": {"field": "grp", "type": "nominal", "axis": {"title": null, "labelAngle": -45, "labelFontSize": 9, "tickSize": 4, "domainWidth": 1.5, "labelPadding": 2}},
        "y": {"field": "v", "type": "quantitative", "axis": {"title": "cMFI", "titleFontSize": 9, "titleFontWeight": "normal", "titlePadding": 6, "values": [0, 500, 1000, 1500], "format": "d", "labelFontSize": 9.5, "labelPadding": 2, "tickSize": 4, "domainWidth": 1.5}},
        "y2": {"field": "up"}}},
     {"data": {"name": "bars"}, "transform": [{"filter": "datum.m === 'CD80'"}],
      "mark": {"type": "tick", "color": "black", "thickness": 1.5, "size": 13},
      "encoding": {
        "x": {"field": "grp", "type": "nominal", "axis": {"title": null, "labelAngle": -45, "labelFontSize": 9, "tickSize": 4, "domainWidth": 1.5, "labelPadding": 2}},
        "y": {"field": "up", "type": "quantitative", "axis": {"title": "cMFI", "titleFontSize": 9, "titleFontWeight": "normal", "titlePadding": 6, "values": [0, 500, 1000, 1500], "format": "d", "labelFontSize": 9.5, "labelPadding": 2, "tickSize": 4, "domainWidth": 1.5}}}},
     {"data": {"values": [{"t": "CD80", "c": "Con", "v": 1500}]},
      "mark": {"type": "text", "fontSize": 9.5, "align": "left", "baseline": "middle", "dx": -3},
      "encoding": {
        "x": {"field": "c", "type": "nominal", "bandPosition": 0, "axis": {"title": null, "labelAngle": -45, "labelFontSize": 9, "tickSize": 4, "domainWidth": 1.5, "labelPadding": 2}},
        "y": {"field": "v", "type": "quantitative", "axis": {"title": "cMFI", "titleFontSize": 9, "titleFontWeight": "normal", "titlePadding": 6, "values": [0, 500, 1000, 1500], "format": "d", "labelFontSize": 9.5, "labelPadding": 2, "tickSize": 4, "domainWidth": 1.5}},
        "text": {"field": "t"}}}
   ]
  },
  {
   "title": {"text": "(d)", "anchor": "start", "frame": "bounds", "fontSize": 9.5, "fontWeight": "normal", "offset": -12},
   "width": 180, "height": 118,
   "layer": [
     {"data": {"name": "bars"}, "transform": [{"filter": "datum.m === 'CD86'"}],
      "mark": {"type": "bar", "color": "black"},
      "encoding": {
        "x": {"field": "grp", "type": "nominal", "scale": {"domain": ["Con", "MIP-K", "MIP-L", "BCG"], "paddingInner": 0.42, "paddingOuter": 0.21},
          "axis": {"title": null, "labelAngle": -45, "labelFontSize": 9, "tickSize": 4, "domainWidth": 1.5, "labelPadding": 2}},
        "y": {"field": "v", "type": "quantitative", "scale": {"domain": [0, 1500], "nice": false},
          "axis": {"title": "cMFI", "titleFontSize": 9, "titleFontWeight": "normal", "titlePadding": 6, "values": [0, 500, 1000, 1500], "format": "d", "labelFontSize": 9.5, "labelPadding": 2, "tickSize": 4, "domainWidth": 1.5}}
      }},
     {"data": {"name": "bars"}, "transform": [{"filter": "datum.m === 'CD86'"}],
      "mark": {"type": "rule", "color": "black", "strokeWidth": 1.5},
      "encoding": {
        "x": {"field": "grp", "type": "nominal", "axis": {"title": null, "labelAngle": -45, "labelFontSize": 9, "tickSize": 4, "domainWidth": 1.5, "labelPadding": 2}},
        "y": {"field": "v", "type": "quantitative", "axis": {"title": "cMFI", "titleFontSize": 9, "titleFontWeight": "normal", "titlePadding": 6, "values": [0, 500, 1000, 1500], "format": "d", "labelFontSize": 9.5, "labelPadding": 2, "tickSize": 4, "domainWidth": 1.5}},
        "y2": {"field": "up"}}},
     {"data": {"name": "bars"}, "transform": [{"filter": "datum.m === 'CD86'"}],
      "mark": {"type": "tick", "color": "black", "thickness": 1.5, "size": 13},
      "encoding": {
        "x": {"field": "grp", "type": "nominal", "axis": {"title": null, "labelAngle": -45, "labelFontSize": 9, "tickSize": 4, "domainWidth": 1.5, "labelPadding": 2}},
        "y": {"field": "up", "type": "quantitative", "axis": {"title": "cMFI", "titleFontSize": 9, "titleFontWeight": "normal", "titlePadding": 6, "values": [0, 500, 1000, 1500], "format": "d", "labelFontSize": 9.5, "labelPadding": 2, "tickSize": 4, "domainWidth": 1.5}}}},
     {"data": {"values": [{"t": "CD86", "c": "Con", "v": 1500}]},
      "mark": {"type": "text", "fontSize": 9.5, "align": "left", "baseline": "middle", "dx": -3},
      "encoding": {
        "x": {"field": "c", "type": "nominal", "bandPosition": 0, "axis": {"title": null, "labelAngle": -45, "labelFontSize": 9, "tickSize": 4, "domainWidth": 1.5, "labelPadding": 2}},
        "y": {"field": "v", "type": "quantitative", "axis": {"title": "cMFI", "titleFontSize": 9, "titleFontWeight": "normal", "titlePadding": 6, "values": [0, 500, 1000, 1500], "format": "d", "labelFontSize": 9.5, "labelPadding": 2, "tickSize": 4, "domainWidth": 1.5}},
        "text": {"field": "t"}}}
   ]
  }
 ],
 "spacing": 71,
 "bounds": "flush"
}
]
}
